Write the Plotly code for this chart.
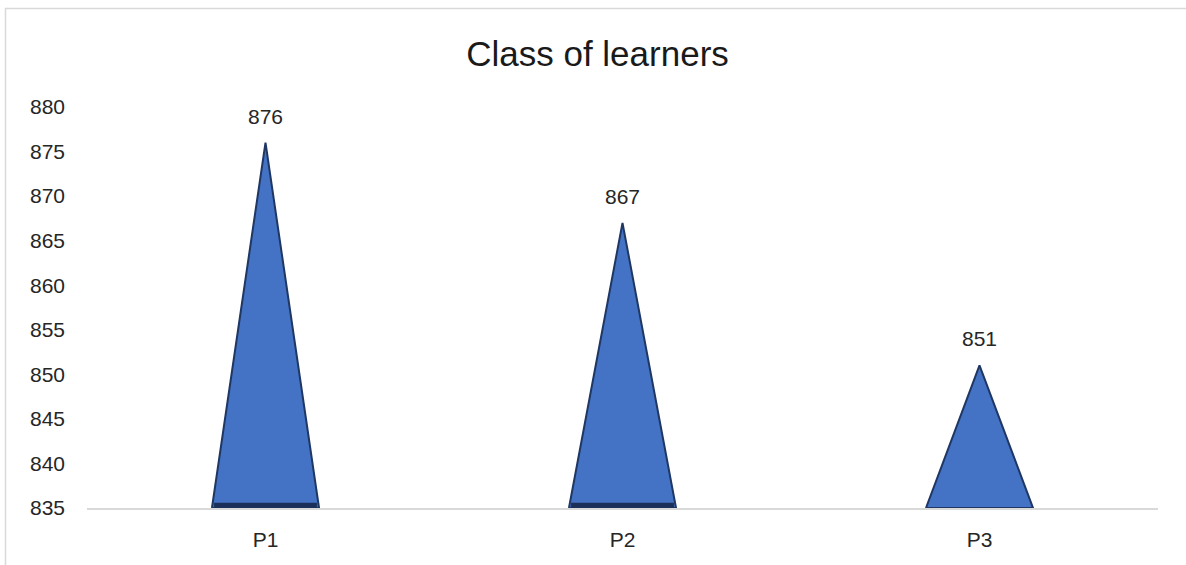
import plotly.graph_objects as go

# Chart data
categories = ["P1", "P2", "P3"]
learners = [876, 867, 851]
y_ticks = [835, 840, 845, 850, 855, 860, 865, 870, 875, 880]

title_text = "Class of learners"
axis_floor = 835
half_width = 0.15

FILL = "#4472C4"
EDGE = "#1F3763"
BASE_SHADE = "#1B2F58"
FONT = "Liberation Sans, Arial, sans-serif"

# Which pyramids show their shaded base edge
shaded_base = [True, True, False]
shade_lift = 0.3  # in value units, keeps the shaded band inside the pyramid

fig = go.Figure()

# Each category drawn as a pyramid-style triangle rising from the axis floor
for i, (cat, val) in enumerate(zip(categories, learners)):
    fig.add_trace(go.Scatter(
        x=[i - half_width, i, i + half_width, i - half_width],
        y=[axis_floor, val, axis_floor, axis_floor],
        mode="lines",
        fill="toself",
        fillcolor=FILL,
        line=dict(color=EDGE, width=2),
        name=cat,
        hoverinfo="text",
        text=f"{cat}: {val}",
        showlegend=False,
    ))
    if shaded_base[i]:
        fig.add_trace(go.Scatter(
            x=[i - half_width + 0.006, i + half_width - 0.006],
            y=[axis_floor + shade_lift, axis_floor + shade_lift],
            mode="lines",
            line=dict(color=BASE_SHADE, width=5),
            hoverinfo="skip",
            showlegend=False,
        ))

# Value labels above each apex
for i, val in enumerate(learners):
    fig.add_annotation(
        x=i, y=val, text=str(val), showarrow=False,
        yanchor="bottom", yshift=13,
        font=dict(family=FONT, size=21, color="#262626"),
    )

# Chart-area frame (light grey)
L, W, T, H = 87, 1071, 107, 401
def px_x(p):
    return (p - L) / W
def px_y(p):
    return (T + H - p) / H

fig.add_shape(
    type="rect", xref="paper", yref="paper",
    x0=px_x(5.5), x1=px_x(1220), y0=px_y(600), y1=px_y(8.5),
    line=dict(color="#D9D9D9", width=1.5), fillcolor="rgba(0,0,0,0)",
    layer="below",
)

fig.update_layout(
    width=1186, height=565,
    margin=dict(l=L, r=1186 - L - W, t=T, b=565 - T - H),
    paper_bgcolor="white", plot_bgcolor="white",
    title=dict(
        text=title_text, x=(465 + 730) / 2 / 1186, xanchor="center",
        y=1 - 54 / 565, yanchor="middle",
        font=dict(family=FONT, size=35, color="#1a1a1a"),
    ),
    xaxis=dict(
        range=[-0.5, len(categories) - 0.5],
        tickmode="array", tickvals=list(range(len(categories))), ticktext=categories,
        showgrid=False, zeroline=False,
        showline=True, linecolor="#D9D9D9", linewidth=1.5,
        ticks="", ticklabelstandoff=12,
        tickfont=dict(family=FONT, size=21, color="#262626"),
        fixedrange=True,
    ),
    yaxis=dict(
        range=[835, 880],
        tickmode="array", tickvals=y_ticks, ticktext=[str(t) for t in y_ticks],
        showgrid=False, zeroline=False, showline=False,
        ticks="", ticklabelstandoff=21,
        tickfont=dict(family=FONT, size=21, color="#262626"),
        fixedrange=True,
    ),
    font=dict(family=FONT),
)

fig.write_html("out.html")
